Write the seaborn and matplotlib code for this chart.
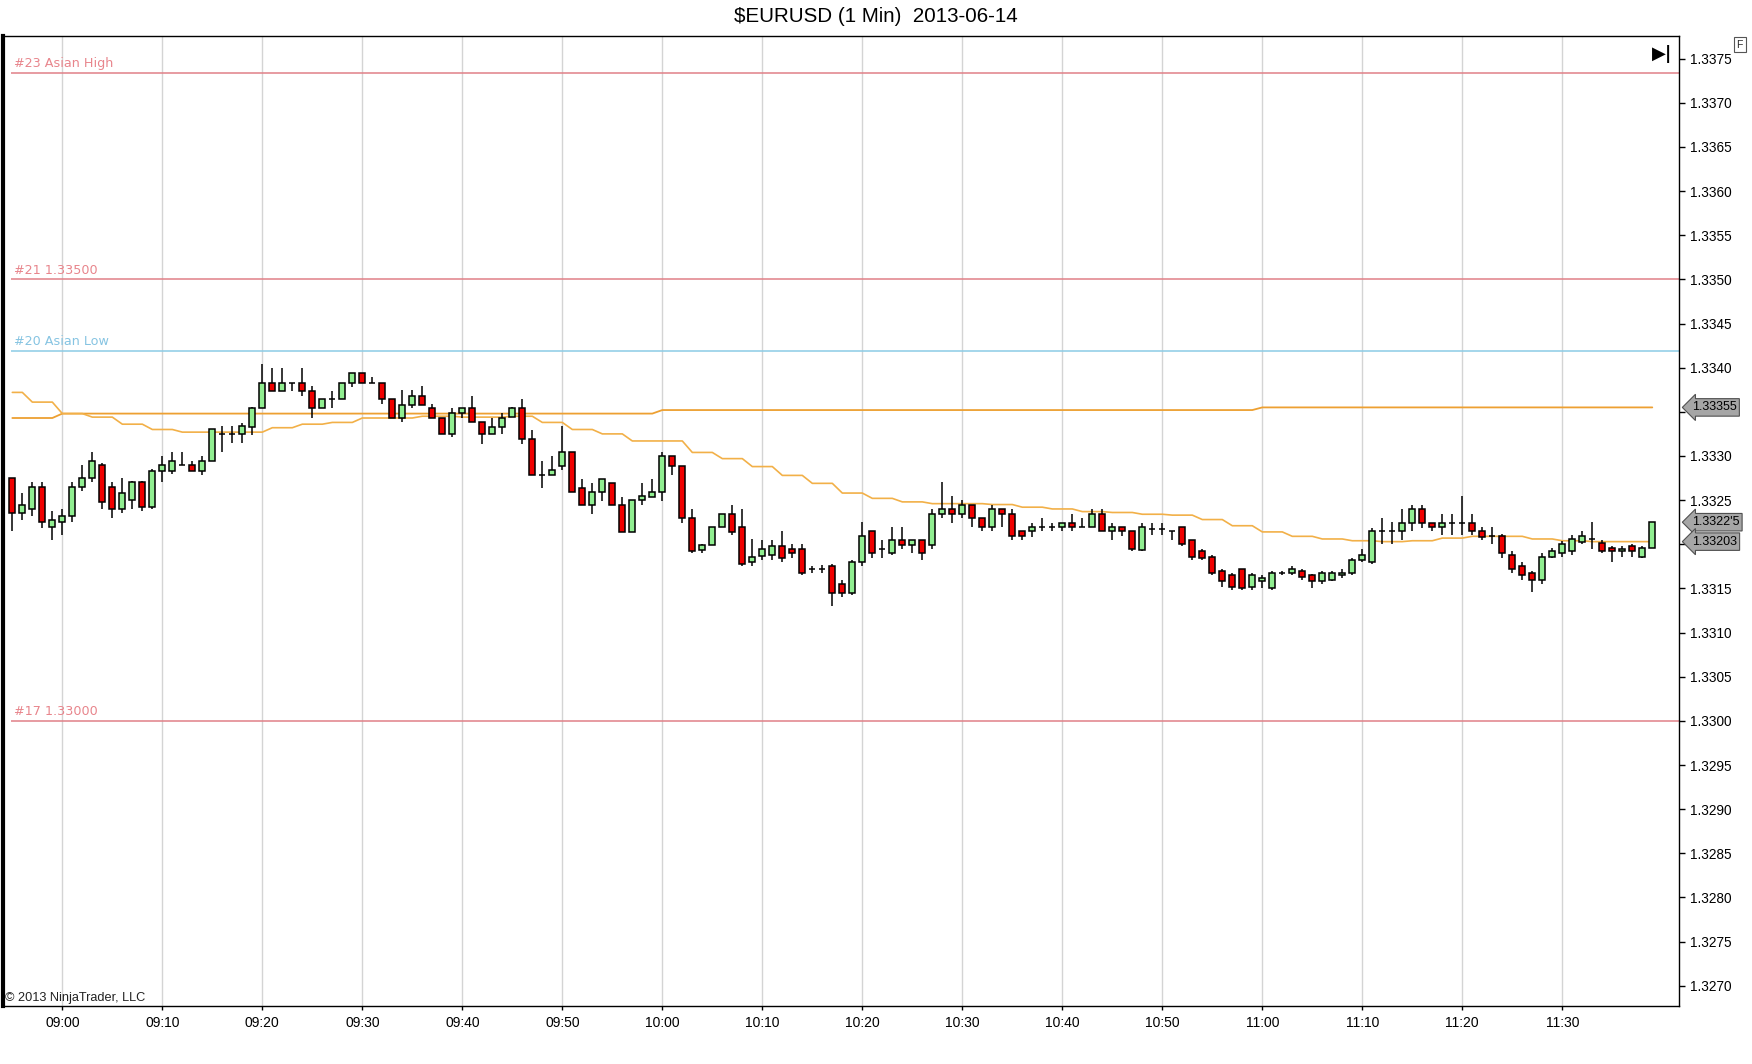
import numpy as np
import pandas as pd
import matplotlib
matplotlib.use("Agg")
import matplotlib.pyplot as plt
import matplotlib.transforms as mtransforms
import seaborn as sns

# ---------------- data ----------------
title = "\\$EURUSD (1 Min)  2013-06-14"
copyright_text = "\u00a9 2013 NinjaTrader, LLC"

# minutes relative to 09:00 (first bar 08:55, last bar 11:39)
minutes = list(range(-5, 160))

opens = [
    1.33275, 1.33235, 1.33240, 1.33265, 1.33220, 1.33225, 1.33232, 1.33265, 1.33275, 1.33290,
    1.33265, 1.33240, 1.33250, 1.33270, 1.33242, 1.33283, 1.33283, 1.33290, 1.33290, 1.33283,
    1.33294, 1.33325, 1.33325, 1.33325, 1.33333, 1.33354, 1.33383, 1.33374, 1.33383, 1.33383,
    1.33374, 1.33354, 1.33364, 1.33364, 1.33383, 1.33394, 1.33383, 1.33383, 1.33364, 1.33343,
    1.33358, 1.33368, 1.33354, 1.33343, 1.33325, 1.33349, 1.33354, 1.33339, 1.33325, 1.33333,
    1.33344, 1.33354, 1.33319, 1.33279, 1.33279, 1.33289, 1.33304, 1.33264, 1.33244, 1.33259,
    1.33269, 1.33244, 1.33214, 1.33250, 1.33254, 1.33259, 1.33300, 1.33289, 1.33230, 1.33194,
    1.33199, 1.33220, 1.33234, 1.33220, 1.33180, 1.33187, 1.33188, 1.33198, 1.33195, 1.33195,
    1.33172, 1.33172, 1.33175, 1.33155, 1.33145, 1.33180, 1.33215, 1.33195, 1.33190, 1.33205,
    1.33199, 1.33205, 1.33199, 1.33234, 1.33240, 1.33234, 1.33244, 1.33230, 1.33220, 1.33240,
    1.33234, 1.33215, 1.33215, 1.33220, 1.33220, 1.33220, 1.33224, 1.33220, 1.33220, 1.33234,
    1.33215, 1.33220, 1.33215, 1.33194, 1.33217, 1.33217, 1.33215, 1.33220, 1.33205, 1.33192,
    1.33186, 1.33170, 1.33165, 1.33172, 1.33152, 1.33158, 1.33150, 1.33168, 1.33168, 1.33170,
    1.33165, 1.33158, 1.33160, 1.33165, 1.33168, 1.33182, 1.33180, 1.33215, 1.33215, 1.33215,
    1.33224, 1.33240, 1.33224, 1.33220, 1.33224, 1.33224, 1.33224, 1.33215, 1.33209, 1.33209,
    1.33188, 1.33175, 1.33168, 1.33160, 1.33186, 1.33190, 1.33192, 1.33203, 1.33206, 1.33202,
    1.33196, 1.33192, 1.33198, 1.33186, 1.33196,
]
highs = [
    1.33275, 1.33258, 1.33270, 1.33270, 1.33238, 1.33240, 1.33270, 1.33290, 1.33304, 1.33292,
    1.33270, 1.33275, 1.33272, 1.33272, 1.33285, 1.33300, 1.33304, 1.33304, 1.33294, 1.33300,
    1.33330, 1.33334, 1.33334, 1.33337, 1.33356, 1.33404, 1.33400, 1.33400, 1.33383, 1.33400,
    1.33379, 1.33364, 1.33374, 1.33383, 1.33394, 1.33394, 1.33389, 1.33383, 1.33364, 1.33375,
    1.33375, 1.33379, 1.33359, 1.33343, 1.33354, 1.33354, 1.33368, 1.33339, 1.33343, 1.33349,
    1.33356, 1.33364, 1.33329, 1.33294, 1.33300, 1.33334, 1.33304, 1.33274, 1.33269, 1.33274,
    1.33269, 1.33254, 1.33250, 1.33269, 1.33274, 1.33304, 1.33300, 1.33289, 1.33240, 1.33200,
    1.33220, 1.33234, 1.33244, 1.33240, 1.33206, 1.33205, 1.33205, 1.33215, 1.33200, 1.33200,
    1.33175, 1.33176, 1.33178, 1.33160, 1.33182, 1.33225, 1.33215, 1.33205, 1.33219, 1.33219,
    1.33205, 1.33205, 1.33240, 1.33270, 1.33255, 1.33250, 1.33244, 1.33230, 1.33244, 1.33240,
    1.33240, 1.33215, 1.33224, 1.33230, 1.33224, 1.33224, 1.33234, 1.33230, 1.33240, 1.33240,
    1.33224, 1.33220, 1.33215, 1.33224, 1.33224, 1.33224, 1.33215, 1.33220, 1.33205, 1.33195,
    1.33188, 1.33172, 1.33168, 1.33172, 1.33168, 1.33165, 1.33170, 1.33170, 1.33175, 1.33172,
    1.33166, 1.33170, 1.33170, 1.33172, 1.33185, 1.33195, 1.33218, 1.33230, 1.33225, 1.33240,
    1.33245, 1.33245, 1.33224, 1.33234, 1.33234, 1.33255, 1.33234, 1.33219, 1.33219, 1.33212,
    1.33192, 1.33180, 1.33170, 1.33190, 1.33196, 1.33204, 1.33210, 1.33215, 1.33225, 1.33205,
    1.33198, 1.33198, 1.33200, 1.33198, 1.33225,
]
lows = [
    1.33215, 1.33228, 1.33232, 1.33218, 1.33205, 1.33210, 1.33225, 1.33260, 1.33270, 1.33240,
    1.33230, 1.33235, 1.33240, 1.33238, 1.33240, 1.33270, 1.33280, 1.33290, 1.33283, 1.33278,
    1.33294, 1.33304, 1.33315, 1.33315, 1.33324, 1.33354, 1.33374, 1.33374, 1.33374, 1.33368,
    1.33343, 1.33354, 1.33354, 1.33364, 1.33378, 1.33383, 1.33383, 1.33359, 1.33343, 1.33338,
    1.33354, 1.33358, 1.33343, 1.33325, 1.33322, 1.33343, 1.33339, 1.33314, 1.33325, 1.33325,
    1.33344, 1.33314, 1.33279, 1.33264, 1.33279, 1.33284, 1.33259, 1.33244, 1.33234, 1.33249,
    1.33244, 1.33214, 1.33214, 1.33244, 1.33254, 1.33249, 1.33279, 1.33224, 1.33190, 1.33190,
    1.33199, 1.33220, 1.33210, 1.33175, 1.33175, 1.33182, 1.33182, 1.33180, 1.33185, 1.33165,
    1.33168, 1.33168, 1.33130, 1.33140, 1.33142, 1.33175, 1.33185, 1.33185, 1.33188, 1.33195,
    1.33190, 1.33182, 1.33195, 1.33230, 1.33224, 1.33230, 1.33220, 1.33215, 1.33215, 1.33220,
    1.33205, 1.33205, 1.33208, 1.33215, 1.33215, 1.33215, 1.33215, 1.33220, 1.33220, 1.33215,
    1.33205, 1.33209, 1.33192, 1.33192, 1.33210, 1.33210, 1.33205, 1.33198, 1.33182, 1.33182,
    1.33165, 1.33152, 1.33148, 1.33148, 1.33148, 1.33150, 1.33148, 1.33165, 1.33165, 1.33160,
    1.33150, 1.33155, 1.33158, 1.33162, 1.33165, 1.33180, 1.33178, 1.33200, 1.33200, 1.33205,
    1.33215, 1.33218, 1.33215, 1.33210, 1.33210, 1.33210, 1.33210, 1.33205, 1.33200, 1.33185,
    1.33168, 1.33160, 1.33146, 1.33155, 1.33184, 1.33186, 1.33188, 1.33200, 1.33195, 1.33190,
    1.33180, 1.33186, 1.33186, 1.33184, 1.33196,
]
closes = [
    1.33235, 1.33245, 1.33265, 1.33225, 1.33228, 1.33232, 1.33265, 1.33275, 1.33294, 1.33248,
    1.33240, 1.33258, 1.33270, 1.33242, 1.33283, 1.33290, 1.33294, 1.33290, 1.33283, 1.33294,
    1.33330, 1.33325, 1.33325, 1.33334, 1.33354, 1.33383, 1.33374, 1.33383, 1.33383, 1.33374,
    1.33354, 1.33364, 1.33364, 1.33383, 1.33394, 1.33383, 1.33383, 1.33364, 1.33343, 1.33358,
    1.33368, 1.33358, 1.33343, 1.33325, 1.33349, 1.33354, 1.33339, 1.33325, 1.33333, 1.33343,
    1.33354, 1.33319, 1.33279, 1.33279, 1.33284, 1.33304, 1.33259, 1.33244, 1.33259, 1.33274,
    1.33244, 1.33214, 1.33250, 1.33255, 1.33259, 1.33300, 1.33289, 1.33230, 1.33192, 1.33199,
    1.33220, 1.33234, 1.33214, 1.33178, 1.33186, 1.33195, 1.33198, 1.33185, 1.33190, 1.33168,
    1.33172, 1.33172, 1.33145, 1.33145, 1.33180, 1.33209, 1.33190, 1.33195, 1.33205, 1.33199,
    1.33205, 1.33190, 1.33234, 1.33240, 1.33234, 1.33244, 1.33230, 1.33220, 1.33240, 1.33234,
    1.33209, 1.33209, 1.33220, 1.33220, 1.33220, 1.33224, 1.33220, 1.33220, 1.33234, 1.33215,
    1.33220, 1.33215, 1.33195, 1.33220, 1.33217, 1.33217, 1.33215, 1.33200, 1.33186, 1.33185,
    1.33168, 1.33158, 1.33152, 1.33150, 1.33165, 1.33162, 1.33168, 1.33168, 1.33172, 1.33163,
    1.33158, 1.33168, 1.33168, 1.33168, 1.33182, 1.33188, 1.33215, 1.33215, 1.33215, 1.33224,
    1.33240, 1.33224, 1.33220, 1.33224, 1.33224, 1.33224, 1.33215, 1.33208, 1.33209, 1.33190,
    1.33172, 1.33165, 1.33160, 1.33186, 1.33192, 1.33200, 1.33206, 1.33209, 1.33206, 1.33192,
    1.33192, 1.33195, 1.33192, 1.33196, 1.33225,
]

# flat stepped average (upper orange line)
avg_flat = [
    1.33343, 1.33343, 1.33343, 1.33343, 1.33343, 1.33348, 1.33348, 1.33348, 1.33348, 1.33348,
    1.33348, 1.33348, 1.33348, 1.33348, 1.33348, 1.33348, 1.33348, 1.33348, 1.33348, 1.33348,
    1.33348, 1.33348, 1.33348, 1.33348, 1.33348, 1.33348, 1.33348, 1.33348, 1.33348, 1.33348,
    1.33348, 1.33348, 1.33348, 1.33348, 1.33348, 1.33348, 1.33348, 1.33348, 1.33348, 1.33348,
    1.33348, 1.33348, 1.33348, 1.33348, 1.33348, 1.33348, 1.33348, 1.33348, 1.33348, 1.33348,
    1.33348, 1.33348, 1.33348, 1.33348, 1.33348, 1.33348, 1.33348, 1.33348, 1.33348, 1.33348,
    1.33348, 1.33348, 1.33348, 1.33348, 1.33348, 1.33352, 1.33352, 1.33352, 1.33352, 1.33352,
    1.33352, 1.33352, 1.33352, 1.33352, 1.33352, 1.33352, 1.33352, 1.33352, 1.33352, 1.33352,
    1.33352, 1.33352, 1.33352, 1.33352, 1.33352, 1.33352, 1.33352, 1.33352, 1.33352, 1.33352,
    1.33352, 1.33352, 1.33352, 1.33352, 1.33352, 1.33352, 1.33352, 1.33352, 1.33352, 1.33352,
    1.33352, 1.33352, 1.33352, 1.33352, 1.33352, 1.33352, 1.33352, 1.33352, 1.33352, 1.33352,
    1.33352, 1.33352, 1.33352, 1.33352, 1.33352, 1.33352, 1.33352, 1.33352, 1.33352, 1.33352,
    1.33352, 1.33352, 1.33352, 1.33352, 1.33352, 1.33355, 1.33355, 1.33355, 1.33355, 1.33355,
    1.33355, 1.33355, 1.33355, 1.33355, 1.33355, 1.33355, 1.33355, 1.33355, 1.33355, 1.33355,
    1.33355, 1.33355, 1.33355, 1.33355, 1.33355, 1.33355, 1.33355, 1.33355, 1.33355, 1.33355,
    1.33355, 1.33355, 1.33355, 1.33355, 1.33355, 1.33355, 1.33355, 1.33355, 1.33355, 1.33355,
    1.33355, 1.33355, 1.33355, 1.33355, 1.33355,
]
# descending stepped average (lower orange line)
avg_step = [
    1.33372, 1.33372, 1.33361, 1.33361, 1.33361, 1.33348, 1.33348, 1.33348, 1.33344, 1.33344,
    1.33344, 1.33336, 1.33336, 1.33336, 1.33330, 1.33330, 1.33330, 1.33327, 1.33327, 1.33327,
    1.33327, 1.33327, 1.33327, 1.33327, 1.33327, 1.33327, 1.33332, 1.33332, 1.33332, 1.33336,
    1.33336, 1.33336, 1.33338, 1.33338, 1.33338, 1.33343, 1.33343, 1.33343, 1.33343, 1.33343,
    1.33343, 1.33345, 1.33345, 1.33345, 1.33345, 1.33344, 1.33344, 1.33344, 1.33344, 1.33344,
    1.33345, 1.33345, 1.33345, 1.33338, 1.33338, 1.33338, 1.33330, 1.33330, 1.33330, 1.33325,
    1.33325, 1.33325, 1.33317, 1.33317, 1.33317, 1.33317, 1.33317, 1.33317, 1.33304, 1.33304,
    1.33304, 1.33297, 1.33297, 1.33297, 1.33288, 1.33288, 1.33288, 1.33278, 1.33278, 1.33278,
    1.33269, 1.33269, 1.33269, 1.33258, 1.33258, 1.33258, 1.33252, 1.33252, 1.33252, 1.33248,
    1.33248, 1.33248, 1.33246, 1.33246, 1.33246, 1.33246, 1.33246, 1.33246, 1.33245, 1.33245,
    1.33245, 1.33242, 1.33242, 1.33242, 1.33240, 1.33240, 1.33240, 1.33237, 1.33237, 1.33237,
    1.33236, 1.33236, 1.33236, 1.33234, 1.33234, 1.33234, 1.33233, 1.33233, 1.33233, 1.33228,
    1.33228, 1.33228, 1.33221, 1.33221, 1.33221, 1.33214, 1.33214, 1.33214, 1.33209, 1.33209,
    1.33209, 1.33206, 1.33206, 1.33206, 1.33204, 1.33204, 1.33204, 1.33203, 1.33203, 1.33203,
    1.33204, 1.33204, 1.33204, 1.33207, 1.33207, 1.33207, 1.33209, 1.33209, 1.33209, 1.33209,
    1.33209, 1.33209, 1.33206, 1.33206, 1.33206, 1.33204, 1.33204, 1.33204, 1.33203, 1.33203,
    1.33203, 1.33203, 1.33203, 1.33203, 1.33203,
]

# horizontal reference levels
level_names = ["#23 Asian High", "#21 1.33500", "#20 Asian Low", "#17 1.33000"]
level_values = [1.33734, 1.33500, 1.33419, 1.33000]
level_colors = ["#e08088", "#e08088", "#8ccbe6", "#e08088"]
level_text_colors = ["#e8858c", "#e8858c", "#86c4e2", "#e8858c"]

# x axis labels
xtick_minutes = [0, 10, 20, 30, 40, 50, 60, 70, 80, 90, 100, 110, 120, 130, 140, 150]
xtick_labels = ["09:00", "09:10", "09:20", "09:30", "09:40", "09:50", "10:00", "10:10",
                "10:20", "10:30", "10:40", "10:50", "11:00", "11:10", "11:20", "11:30"]

# y axis labels (those hidden under the price tags are blank, as in the original)
ytick_values = [1.3270, 1.3275, 1.3280, 1.3285, 1.3290, 1.3295, 1.3300, 1.3305, 1.3310,
                1.3315, 1.3320, 1.3325, 1.3330, 1.3335, 1.3340, 1.3345, 1.3350, 1.3355,
                1.3360, 1.3365, 1.3370, 1.3375]
ytick_labels = ["1.3270", "1.3275", "1.3280", "1.3285", "1.3290", "1.3295", "1.3300",
                "1.3305", "1.3310", "1.3315", "", "1.3325", "1.3330", "", "1.3340",
                "1.3345", "1.3350", "1.3355", "1.3360", "1.3365", "1.3370", "1.3375"]
grid_levels = [1.3270, 1.3285, 1.3300, 1.3315, 1.3330, 1.3345, 1.3360, 1.3375]

# price tags on the right axis
tag_values = [1.33355, 1.33225, 1.33203]
tag_texts = ["1.33355", "1.3322'5", "1.33203"]

# ---------------- style ----------------
sns.set_theme(style="white")
plt.rcParams["font.family"] = ["Liberation Sans", "DejaVu Sans"]

fig = plt.figure(figsize=(17.52, 10.64), dpi=100)
fig.patch.set_facecolor("white")
ax = fig.add_axes([0.0019, 0.0546, 0.9566, 0.9118])
ax.set_facecolor("white")

df = pd.DataFrame({"minute": minutes, "open": opens, "high": highs,
                   "low": lows, "close": closes})
df["up"] = df["close"] >= df["open"]
df["body_bottom"] = df[["open", "close"]].min(axis=1)
df["body_height"] = (df["close"] - df["open"]).abs()

ax.set_xlim(-5.9, 161.7)
ax.set_ylim(1.326772, 1.337759)

# grid
ax.set_yticks(ytick_values)
ax.set_yticklabels(ytick_labels)
ax.set_yticks(grid_levels, minor=True)
ax.set_xticks(xtick_minutes)
ax.set_xticklabels(xtick_labels)
ax.grid(which="minor", axis="y", color="#d4d4d4", lw=1.0, zorder=0)
ax.grid(which="major", axis="x", color="#d4d4d4", lw=1.0, zorder=0)
ax.grid(which="major", axis="y", visible=False)

# level lines
for name, val, col, tcol in zip(level_names, level_values, level_colors, level_text_colors):
    ax.hlines(val, minutes[0] - 0.1, 161.7, color=col, lw=1.1, zorder=1)
    ax.text(minutes[0] + 0.15, val + 0.00003, name, color=tcol, fontsize=9.2,
            ha="left", va="bottom", family=["DejaVu Sans"], zorder=2)

# averages
sns.lineplot(x=minutes, y=avg_flat, ax=ax, color="#eda032", lw=1.3,
             estimator=None, zorder=2)
sns.lineplot(x=minutes, y=avg_step, ax=ax, color="#f2b048", lw=1.2,
             estimator=None, zorder=2)

# candles
ax.vlines(df["minute"], df["low"], df["high"], color="black", lw=1.1, zorder=3)
body_colors = np.where(df["up"], "#90ee90", "#f00000")
ax.bar(df["minute"], df["body_height"], bottom=df["body_bottom"], width=0.62,
       color=body_colors, edgecolor="black", linewidth=1.1, zorder=4)

# axes cosmetics
ax.yaxis.tick_right()
ax.tick_params(axis="y", which="major", labelsize=9.8, length=4, width=1,
               direction="out", colors="black", pad=4, right=True, left=False)
ax.tick_params(axis="y", which="minor", length=0)
ax.tick_params(axis="x", labelsize=10, length=3, width=1, direction="out",
               colors="black", pad=4, bottom=True)
for s in ["top", "right", "bottom"]:
    ax.spines[s].set_visible(True)
    ax.spines[s].set_color("black")
    ax.spines[s].set_linewidth(1.0)
ax.spines["left"].set_visible(True)
ax.spines["left"].set_color("black")
ax.spines["left"].set_linewidth(3.0)
ax.set_xlabel("")
ax.set_ylabel("")

# price tags
trans = mtransforms.blended_transform_factory(ax.transAxes, ax.transData)
for val, txt in zip(tag_values, tag_texts):
    ax.text(1.0075, val, txt, transform=trans, ha="left", va="center",
            fontsize=9, color="black", clip_on=False, zorder=10,
            bbox=dict(boxstyle="larrow,pad=0.22", fc="#a6a6a6", ec="#505050", lw=0.8))

# title, copyright, icons
fig.text(0.5, 1 - 15 / 952, title, ha="center", va="center", fontsize=14.8, color="black")
ax.text(0.0008, 0.0085, copyright_text, transform=ax.transAxes, ha="left",
        va="center", fontsize=9.2, color="#222222")
ax.text(0.9895, 0.9815, "\u25b6|", transform=ax.transAxes, ha="center", va="center",
        fontsize=13, fontweight="bold", color="black", family=["DejaVu Sans"])
fig.text(1557 / 1568, 1 - 40 / 952, "F", ha="center", va="center", fontsize=7.5,
         bbox=dict(boxstyle="square,pad=0.25", fc="white", ec="#555555", lw=0.8))

fig.savefig("out.png", dpi=100, facecolor="white")
